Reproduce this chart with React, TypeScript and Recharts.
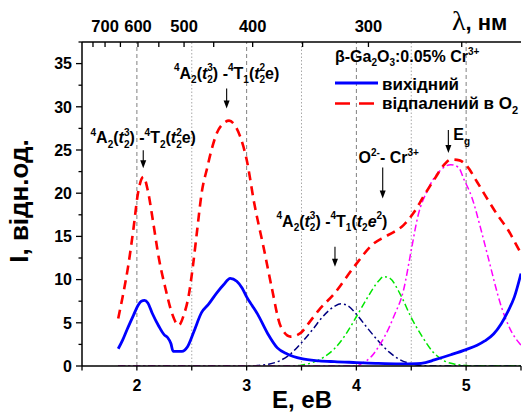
import React from 'react'
import { LineChart, Line, XAxis, YAxis, ReferenceLine, ReferenceDot } from 'recharts'

// photon energy E (eV) vs intensity I (arb. units)
const originalSpectrum: [number, number][] = [
  [1.83, 2.0], [1.87, 3.0], [1.91, 4.2], [1.97, 5.9], [2.01, 7.0], [2.04, 7.5], [2.07, 7.6],
  [2.1, 7.3], [2.14, 6.1], [2.2, 4.6], [2.25, 3.6], [2.28, 3.3], [2.31, 2.6], [2.33, 1.7],
  [2.41, 1.7], [2.46, 2.2], [2.52, 4.0], [2.59, 6.2], [2.65, 7.1], [2.73, 8.5], [2.79, 9.4],
  [2.85, 10.15], [2.91, 9.8], [2.96, 9.0], [3.0, 8.0], [3.05, 7.0], [3.1, 6.0], [3.19, 3.8],
  [3.28, 2.1], [3.37, 1.4], [3.5, 0.85], [3.66, 0.6], [3.8, 0.5], [4.0, 0.4], [4.2, 0.3],
  [4.4, 0.25], [4.55, 0.28], [4.63, 0.4], [4.71, 0.7], [4.86, 1.3], [5.0, 1.9], [5.1, 2.4],
  [5.17, 2.9], [5.25, 3.7], [5.32, 4.9], [5.38, 6.3], [5.44, 8.0], [5.5, 10.7],
]

const annealedSpectrum: [number, number][] = [
  [1.83, 5.5], [1.87, 8.0], [1.92, 11.5], [1.97, 16.0], [2.01, 20.0], [2.06, 21.9], [2.1, 20.3],
  [2.15, 16.5], [2.2, 12.5], [2.26, 9.0], [2.32, 6.1], [2.38, 4.7], [2.43, 6.0], [2.47, 8.0],
  [2.51, 11.5], [2.55, 15.8], [2.59, 20.0], [2.64, 22.9], [2.68, 25.0], [2.73, 27.0],
  [2.79, 28.1], [2.84, 28.4], [2.89, 27.9], [2.94, 26.6], [3.0, 23.9], [3.07, 18.8],
  [3.16, 13.4], [3.23, 9.0], [3.31, 4.6], [3.4, 3.4], [3.49, 3.8], [3.58, 5.2], [3.66, 6.5],
  [3.8, 8.4], [3.98, 11.5], [4.16, 14.2], [4.25, 14.9], [4.34, 15.5], [4.43, 16.3],
  [4.52, 17.7], [4.62, 19.8], [4.71, 21.6], [4.8, 23.3], [4.86, 23.9], [4.94, 23.8],
  [5.01, 23.1], [5.1, 21.3], [5.2, 19.2], [5.29, 17.4], [5.38, 15.8], [5.45, 14.2], [5.5, 13.0],
]

// fitted bands
const bandT1: [number, number][] = [
  [1.83, 0], [3.0, 0], [3.1, 0.05], [3.2, 0.2], [3.3, 0.6], [3.4, 1.4], [3.5, 2.7], [3.6, 4.2],
  [3.7, 5.8], [3.8, 6.9], [3.86, 7.2], [3.92, 7.0], [4.0, 6.0], [4.1, 4.4], [4.2, 2.9],
  [4.3, 1.6], [4.4, 0.7], [4.5, 0.25], [4.6, 0.05], [4.7, 0], [5.5, 0],
]

const bandCT: [number, number][] = [
  [1.83, 0], [3.4, 0], [3.5, 0.1], [3.6, 0.4], [3.7, 1.0], [3.8, 2.0], [3.9, 3.6], [4.0, 5.7],
  [4.1, 7.9], [4.2, 9.8], [4.25, 10.35], [4.3, 10.2], [4.4, 8.3], [4.5, 5.6], [4.6, 3.4],
  [4.7, 1.6], [4.8, 0.6], [4.9, 0.2], [5.0, 0.05], [5.1, 0], [5.5, 0],
]

const bandEg: [number, number][] = [
  [1.83, 0], [4.0, 0], [4.05, 0.3], [4.13, 1.0], [4.22, 2.6], [4.3, 4.5], [4.34, 5.7],
  [4.43, 8.8], [4.5, 13.4], [4.56, 17.3], [4.65, 20.4], [4.77, 22.7], [4.86, 23.3],
  [4.93, 23.0], [4.98, 21.6], [5.05, 19.6], [5.135, 15.8], [5.2, 12.6], [5.32, 6.9],
  [5.4, 4.3], [5.5, 2.4],
]

const bottomTicks = [1.5, 2, 2.5, 3, 3.5, 4, 4.5, 5, 5.5]
const leftTicks = [0, 2.5, 5, 7.5, 10, 12.5, 15, 17.5, 20, 22.5, 25, 27.5, 30, 32.5, 35, 37.5]
const topTickE = [1.6, 1.71, 1.85, 2.01, 2.2, 2.43, 2.7, 3.055, 3.51, 4.11, 4.96]
const topTickLabels = ['', '700', '', '600', '', '500', '', '400', '', '300', '']
const gridMajor = [2, 3, 4, 5]
const gridMinor = [2.5, 3.5, 4.5]

const calloutTips: [number, number][] = [
  [2.058, 22.9], [2.818, 29.8], [3.805, 11.5], [4.24, 19.4], [4.838, 24.65],
]
const calloutLabels: string[][] = [
  ['^4', 'A', '_2', '(', '*t', '_2', '~3', ') -', '^4', 'T', '_2', '(', '*t', '_2', '~2', 'e', ')'],
  ['^4', 'A', '_2', '(', '*t', '_2', '~3', ') -', '^4', 'T', '_1', '(', '*t', '_2', '~2', 'e', ')'],
  ['^4', 'A', '_2', '(', '*t', '_2', '~3', ') -', '^4', 'T', '_1', '(', '*t', '_2', '*e', '^2', ')'],
  ['O', '^2-', '- Cr', '^3+'],
  ['E', '_g'],
]
const calloutLayout = [
  { len: 18, rise: 25, dx: 0, anchor: 'middle' },
  { len: 20, rise: 30, dx: 0, anchor: 'middle' },
  { len: 20, rise: 40, dx: -3, anchor: 'middle' },
  { len: 31, rise: 35, dx: 6, anchor: 'middle' },
  { len: 23, rise: 13, dx: 5, anchor: 'start' },
]

const SANS = '"Liberation Sans", Arial, sans-serif'

const toPoints = (pts: [number, number][]) => pts.map(([E, I]) => ({ E, I }))

// tiny markup: ^sup _sub ~sup stacked over previous sub, *italic
function rich(tokens: string[], base = 16, small = 10) {
  let shift = 0
  let lastSubW = 0
  return tokens.map((tok, i) => {
    const kind = '^_~*'.includes(tok[0]) ? tok[0] : ''
    const txt = kind ? tok.slice(1) : tok
    let target = 0
    let size = base
    let dx = 0
    if (kind === '^') { target = -0.45 * base; size = small }
    if (kind === '_') { target = 0.28 * base; size = small }
    if (kind === '~') { target = -0.45 * base; size = small; dx = -lastSubW }
    const dy = target - shift
    shift = target
    if (kind === '_') lastSubW = txt.length * small * 0.556
    return (
      <tspan key={i} dx={dx || undefined} dy={dy || undefined} fontSize={size}
        fontStyle={kind === '*' ? 'italic' : undefined}>{txt}</tspan>
    )
  })
}

const LeftTick = ({ x, y, payload }: any) => {
  const v = payload.value
  const major = v % 5 === 0
  return (
    <g>
      <line x1={x - (major ? 6 : 3.5)} x2={x} y1={y} y2={y} stroke="#000" strokeWidth={1.3} />
      {major && (
        <text x={x - 10} y={y} dy="0.36em" textAnchor="end" fontFamily={SANS} fontWeight="bold" fontSize={16} fill="#000">{v}</text>
      )}
    </g>
  )
}

const RightTick = ({ x, y }: any) => (
  <line x1={x - 4} x2={x} y1={y} y2={y} stroke="#000" strokeWidth={1.3} />
)

const BottomTick = ({ x, y, payload }: any) => {
  const v = payload.value
  return (
    <g>
      <line x1={x} x2={x} y1={y} y2={y + 4.5} stroke="#000" strokeWidth={1.3} />
      {Number.isInteger(v) && (
        <text x={x} y={y + 25} textAnchor="middle" fontFamily={SANS} fontWeight="bold" fontSize={16} fill="#000">{v}</text>
      )}
    </g>
  )
}

const TopTick = ({ x, y, index }: any) => {
  const label = topTickLabels[index]
  return (
    <g>
      <line x1={x} x2={x} y1={y} y2={y + 5} stroke="#000" strokeWidth={1.3} />
      {label && (
        <text x={x} y={y - 10} textAnchor="middle" fontFamily={SANS} fontWeight="bold" fontSize={16.5} fill="#000">{label}</text>
      )}
    </g>
  )
}

const Callout = ({ cx, cy, idx }: any) => {
  const l = calloutLayout[idx]
  return (
    <g>
      <line x1={cx} x2={cx} y1={cy - l.len} y2={cy - 6} stroke="#000" strokeWidth={1.1} />
      <path d={`M${cx - 3},${cy - 8} L${cx + 3},${cy - 8} L${cx},${cy} Z`} fill="#000" />
      <text x={cx + l.dx} y={cy - l.rise} textAnchor={l.anchor} fontFamily={SANS} fontWeight="bold" fontSize={16} fill="#000">
        {rich(calloutLabels[idx])}
      </text>
    </g>
  )
}

const bandStyle = { strokeWidth: 1.5, strokeDasharray: '7 3 2 3' }

export default function App() {
  return (
    <div style={{ position: 'absolute', left: 0, top: 0, width: 522, height: 414, background: '#fff' }}>
      <LineChart width={522} height={414} margin={{ top: 10, right: 1, bottom: 3, left: 2 }}>
        <XAxis xAxisId="bottom" type="number" dataKey="E" domain={[1.5, 5.5]} allowDataOverflow
          ticks={bottomTicks} interval={0} tick={BottomTick} tickSize={0} tickMargin={0} tickLine={false}
          height={45} axisLine={{ stroke: '#000', strokeWidth: 1.5 }} />
        <XAxis xAxisId="top" orientation="top" type="number" dataKey="E" domain={[1.5, 5.5]} allowDataOverflow
          ticks={topTickE} interval={0} tick={TopTick} tickSize={0} tickMargin={0} tickLine={false}
          height={32} axisLine={{ stroke: '#000', strokeWidth: 1.5 }} />
        <YAxis yAxisId="left" type="number" domain={[0, 37.5]} allowDataOverflow
          ticks={leftTicks} interval={0} tick={LeftTick} tickSize={0} tickMargin={0} tickLine={false}
          width={80} axisLine={{ stroke: '#000', strokeWidth: 1.5 }} />
        <YAxis yAxisId="right" orientation="right" type="number" domain={[0, 37.5]} allowDataOverflow
          ticks={leftTicks} interval={0} tick={RightTick} tickSize={0} tickMargin={0} tickLine={false}
          width={0} axisLine={{ stroke: '#000', strokeWidth: 1.5 }} />

        {gridMajor.map((e) => (
          <ReferenceLine key={`gM${e}`} xAxisId="bottom" yAxisId="left" x={e} stroke="#808080" strokeWidth={1} strokeDasharray="4 3" />
        ))}
        {gridMinor.map((e) => (
          <ReferenceLine key={`gm${e}`} xAxisId="bottom" yAxisId="left" x={e} stroke="#a8a8a8" strokeWidth={1} strokeDasharray="1.5 2" />
        ))}

        <Line xAxisId="bottom" yAxisId="left" data={toPoints(bandT1)} dataKey="I" type="monotone" stroke="#000080" {...bandStyle} dot={false} isAnimationActive={false} />
        <Line xAxisId="bottom" yAxisId="left" data={toPoints(bandCT)} dataKey="I" type="monotone" stroke="#00e600" {...bandStyle} dot={false} isAnimationActive={false} />
        <Line xAxisId="bottom" yAxisId="left" data={toPoints(bandEg)} dataKey="I" type="monotone" stroke="#ff00ff" {...bandStyle} dot={false} isAnimationActive={false} />
        <Line xAxisId="bottom" yAxisId="left" data={toPoints(originalSpectrum)} dataKey="I" name="вихідний" type="monotone" stroke="#0000ff" strokeWidth={2.8} dot={false} isAnimationActive={false} />
        <Line xAxisId="bottom" yAxisId="left" data={toPoints(annealedSpectrum)} dataKey="I" name="відпалений в O2" type="monotone" stroke="#ff0000" strokeWidth={2.6} strokeDasharray="9 6" dot={false} isAnimationActive={false} />

        {calloutTips.map(([e, i], idx) => (
          <ReferenceDot key={`c${idx}`} xAxisId="bottom" yAxisId="left" x={e} y={i} r={0}
            shape={(p: any) => <Callout cx={p.cx} cy={p.cy} idx={idx} />} />
        ))}
      </LineChart>

      <svg width={522} height={414} style={{ position: 'absolute', left: 0, top: 0, pointerEvents: 'none' }}>
        <g fontFamily={SANS} fontWeight="bold" fill="#000">
          <text x={335} y={62} fontSize={16}>{rich(['β-Ga', '_2', 'O', '_3', ':0.05% Cr', '^3+'], 16, 10)}</text>
          <line x1={335} x2={378} y1={83} y2={83} stroke="#0000ff" strokeWidth={2.8} />
          <text x={382} y={90} fontSize={17}>вихідний</text>
          <line x1={335} x2={375} y1={103.5} y2={103.5} stroke="#ff0000" strokeWidth={2.6} strokeDasharray="15 9" />
          <text x={382} y={109} fontSize={17}>{rich(['відпалений в O', '_2'], 17, 11)}</text>

          <text x={302} y={408} fontSize={24} textAnchor="middle">E, eB</text>
          <text x={28} y={201} fontSize={26} textAnchor="middle" transform="rotate(-90 28 201)">I, відн.од.</text>
          <text x={452} y={30}>
            <tspan fontFamily='"Liberation Serif", serif' fontWeight="normal" fontSize={28}>λ</tspan>
            <tspan fontSize={22}>, нм</tspan>
          </text>
        </g>
      </svg>
    </div>
  )
}
